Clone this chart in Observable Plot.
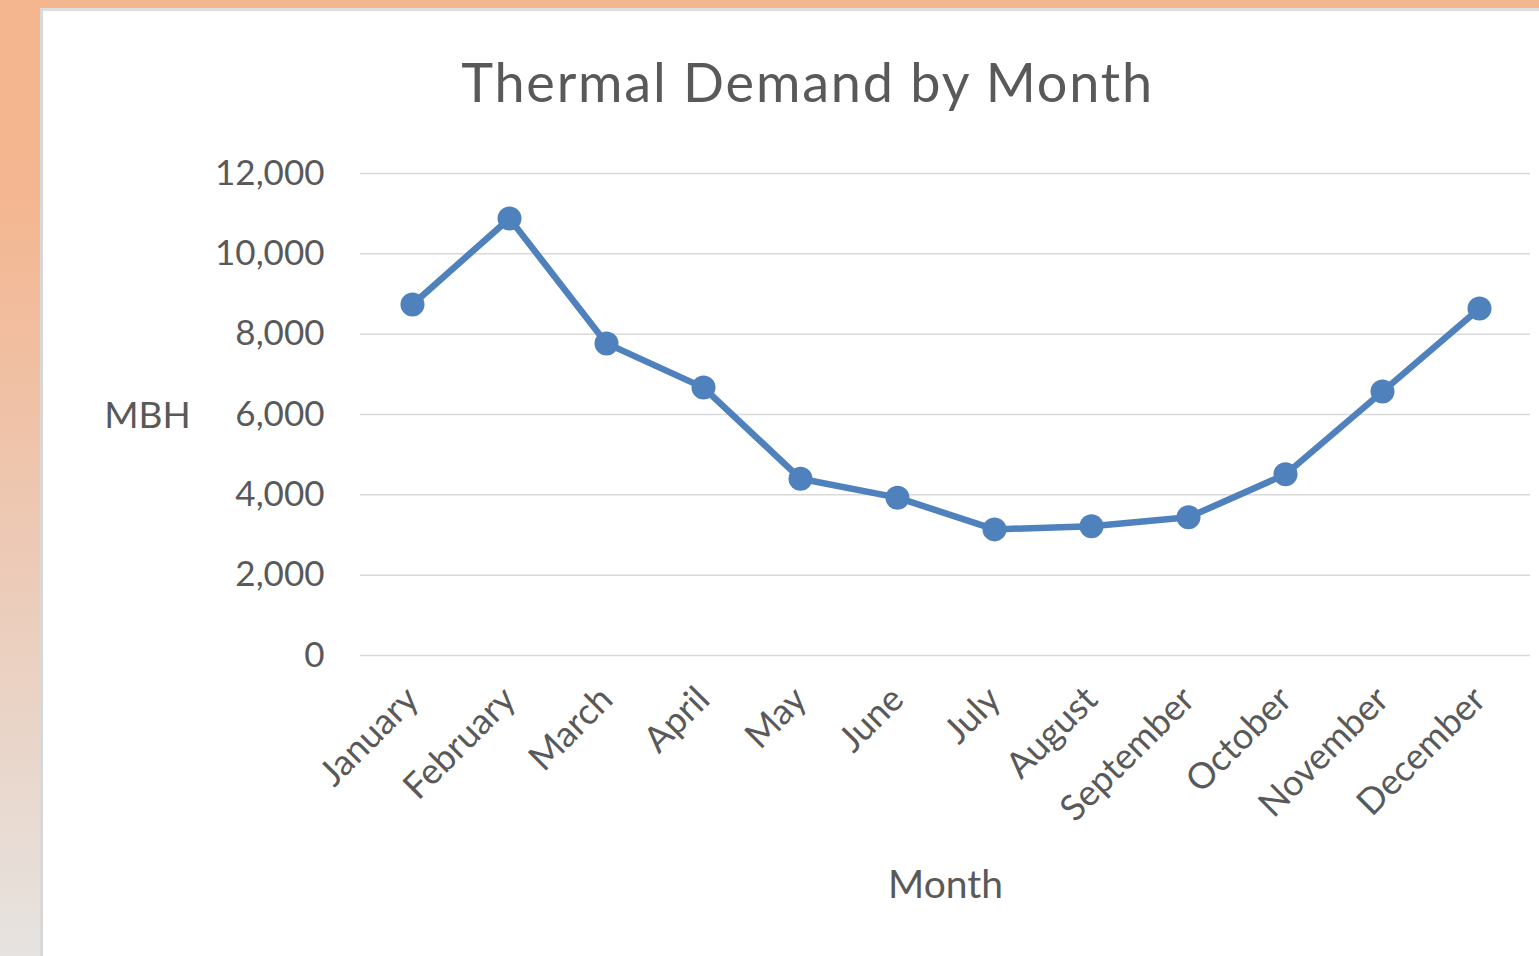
<!DOCTYPE html>
<html>
<head>
<meta charset="utf-8">
<script src="https://cdn.jsdelivr.net/npm/d3@7"></script>
<script src="https://cdn.jsdelivr.net/npm/@observablehq/plot@0.6"></script>
<style>
  html, body { margin: 0; padding: 0; }
  body {
    width: 1539px; height: 956px; overflow: hidden; position: relative;
    background: linear-gradient(to bottom, #f4b68f 0%, #f4b690 20%, #eccbb8 60%, #e6e3e0 100%);
  }
  #topstrip { position: absolute; left: 0; top: 0; width: 1539px; height: 8px; background: #f4b68f; }
  #panel {
    position: absolute; left: 40px; top: 8px; right: 0; bottom: 0;
    background: #ffffff;
    border-left: 3px solid #d8d8d8; border-top: 3px solid #dedede;
    box-sizing: border-box;
  }
  #title {
    position: absolute; left: 0; width: 1615px; top: 52px;
    text-align: center; font-family: Lato, sans-serif; font-size: 54px; line-height: 60px;
    letter-spacing: 1.8px;
    color: #595959;
  }
  #chart { position: absolute; left: 42px; top: 10px; }
</style>
</head>
<body>
<div id="topstrip"></div>
<div id="panel"></div>
<div id="chart"></div>
<div id="title">Thermal Demand by Month</div>
<script>
const months = ["January","February","March","April","May","June","July","August","September","October","November","December"];
const demand = [8740, 10880, 7770, 6670, 4400, 3930, 3140, 3220, 3440, 4510, 6570, 8640];
const yTicks = [0, 2000, 4000, 6000, 8000, 10000, 12000];
const yLabel = "MBH";
const xLabel = "Month";

const data = months.map((m, i) => ({month: m, value: demand[i]}));

const chart = Plot.plot({
  width: 1497,
  height: 946,
  marginLeft: 318,
  marginRight: 9,
  marginTop: 163,
  marginBottom: 301,
  style: {fontFamily: "Lato, sans-serif", fontSize: "35px", color: "#595959", background: "transparent", overflow: "visible"},
  x: {type: "point", domain: months, padding: 0.5, align: 0.5},
  y: {domain: [0, 12000]},
  marks: [
    Plot.ruleY(yTicks, {stroke: "#d9d9d9", strokeWidth: 1.5}),
    Plot.line(data, {x: "month", y: "value", stroke: "#4f81bd", strokeWidth: 6.5, strokeLinejoin: "round"}),
    Plot.dot(data, {x: "month", y: "value", r: 12, fill: "#4f81bd", stroke: "none"}),
    Plot.axisY({ticks: yTicks, tickSize: 0, tickPadding: 36, tickFormat: d3.format(","), label: null, fontSize: 35, fill: "#595959"}),
    Plot.axisX({tickSize: 0, tickRotate: -45, tickPadding: 38, label: null, fontSize: 36, fill: "#595959"}),
    Plot.text([yLabel], {frameAnchor: "left", textAnchor: "middle", dx: -213, dy: 2, fontSize: 37, fill: "#595959"}),
    Plot.text([xLabel], {frameAnchor: "bottom", dy: 242, fontSize: 39, fill: "#595959"})
  ]
});
document.getElementById("chart").appendChild(chart);
</script>
</body>
</html>
